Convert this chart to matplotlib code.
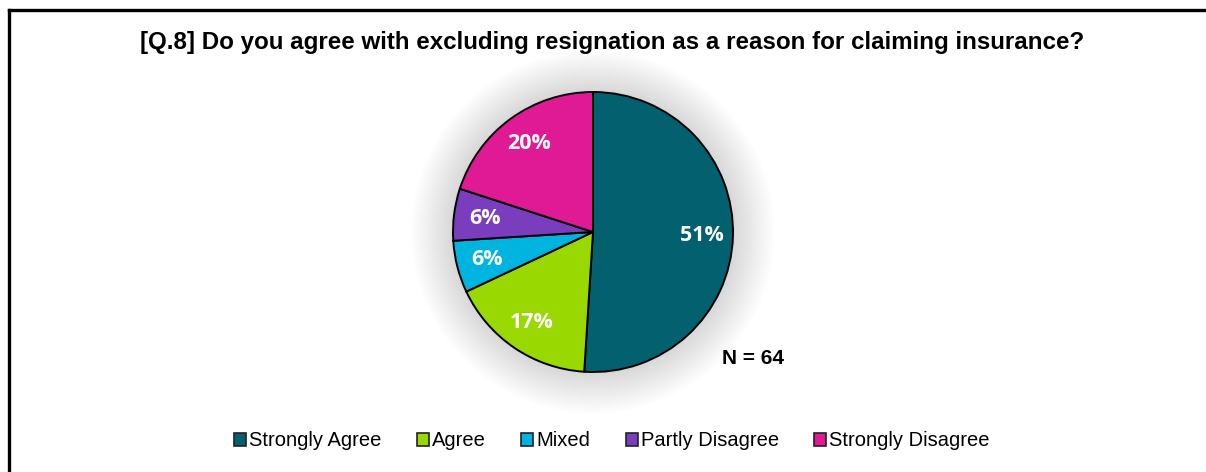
import matplotlib
matplotlib.use("Agg")
import matplotlib.pyplot as plt
from matplotlib.patches import Circle, Patch
from matplotlib.lines import Line2D

# Survey answers (percent of respondents)
categories = ["Strongly Agree", "Agree", "Mixed", "Partly Disagree", "Strongly Disagree"]
shares = [51, 17, 6, 6, 20]
colors = ["#03616F", "#99D800", "#00B4E0", "#7A3DBE", "#E01A95"]
title = "[Q.8] Do you agree with excluding resignation as a reason for claiming insurance?"
sample_note = "N = 64"


def pie_chart():
    W, H = 1206, 472
    fig = plt.figure(figsize=(W / 100, H / 100), dpi=100)

    # outer frame (left and top edges only show)
    fig.add_artist(Line2D([9 / W, 9 / W], [0, 1 - 10 / H], color="black", lw=2.4))
    fig.add_artist(Line2D([9 / W, 1], [1 - 10 / H, 1 - 10 / H], color="black", lw=2.4))

    fig.text(612 / W, 1 - 43 / H, title, ha="center", va="center",
             fontsize=17.4, fontweight="bold", family="Liberation Sans")

    # pie area: centre (593, 232) px, radius 140 px
    r_px = 140
    half = 1.4 * r_px
    ax = fig.add_axes([(593 - half) / W, (H - 232 - half) / H, 2 * half / W, 2 * half / H])

    # soft glow behind the pie
    for i in range(40):
        ax.add_patch(Circle((0, 0), 1.0 + 0.3 * (i + 1) / 40, color="black",
                            alpha=0.0038, lw=0, zorder=0))

    wedges, texts, autotexts = ax.pie(
        shares, colors=colors, startangle=90, counterclock=False, radius=1,
        autopct="%d%%", pctdistance=0.78,
        wedgeprops=dict(edgecolor="black", linewidth=1.4),
        textprops=dict(color="white", fontsize=15.5, fontweight="bold", family="Open Sans"))
    for w in wedges:
        w.set_zorder(2)
    for t in autotexts:
        t.set_zorder(3)
    ax.set_xlim(-1.4, 1.4)
    ax.set_ylim(-1.4, 1.4)
    ax.axis("off")

    fig.text(753 / W, 1 - 358 / H, sample_note, ha="center", va="center",
             fontsize=15, fontweight="bold", family="Liberation Sans")

    handles = [Patch(facecolor=c, edgecolor="#222222", linewidth=1.2) for c in colors]
    fig.legend(handles, categories, loc="center", ncol=5,
               bbox_to_anchor=(612 / W, 1 - 441 / H), frameon=False,
               prop=dict(family="Liberation Sans", size=14.5),
               handlelength=0.6, handleheight=0.6, handletextpad=0.15,
               columnspacing=1.75)

    fig.savefig("out.png", dpi=100)


def main():
    pie_chart()


if __name__ == "__main__":
    main()
